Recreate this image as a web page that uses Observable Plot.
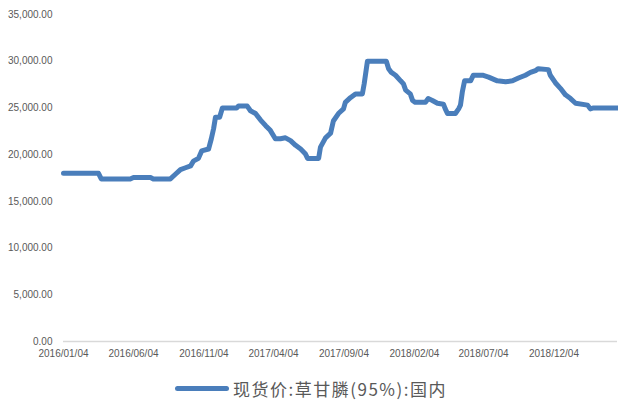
<!DOCTYPE html>
<html>
<head>
<meta charset="utf-8">
<script src="https://cdn.jsdelivr.net/npm/d3@7"></script>
<script src="https://cdn.jsdelivr.net/npm/@observablehq/plot@0.6"></script>
<style>
  html, body { margin: 0; padding: 0; background: #fff; }
  #chart { width: 618px; }
  .legend { display: flex; align-items: center; justify-content: center; height: 40px; font-family: "Noto Sans CJK SC", "Noto Sans", sans-serif; font-size: 17px; letter-spacing: 1.5px; color: #595959; padding-left: 4px; }
  .legend .swatch { width: 54px; height: 5px; border-radius: 3px; background: #4a7ebb; margin-right: 4px; }
</style>
</head>
<body>
<div id="chart"></div>
<script>
const seriesName = "现货价:草甘膦(95%):国内";
const dates = [
  "2016-01-04","2016-03-20","2016-03-26","2016-05-28","2016-06-04","2016-07-11","2016-07-17","2016-08-23",
  "2016-09-03","2016-09-14","2016-09-25","2016-10-06","2016-10-12","2016-10-23","2016-10-30","2016-11-14",
  "2016-11-20","2016-11-25","2016-11-29","2016-12-08","2016-12-14","2017-01-14","2017-01-18","2017-02-06",
  "2017-02-13","2017-02-24","2017-03-07","2017-03-18","2017-03-28","2017-04-08","2017-04-19","2017-04-30",
  "2017-05-11","2017-05-22","2017-06-02","2017-06-12","2017-06-17","2017-07-11","2017-07-15","2017-07-26",
  "2017-08-06","2017-08-12","2017-08-23","2017-09-03","2017-09-07","2017-09-18","2017-09-29","2017-10-14",
  "2017-10-18","2017-10-25","2017-12-05","2017-12-10","2017-12-16","2017-12-25","2018-01-05","2018-01-11",
  "2018-01-16","2018-01-26","2018-01-31","2018-02-06","2018-02-28","2018-03-06","2018-03-15","2018-03-26",
  "2018-04-08","2018-04-12","2018-04-17","2018-05-04","2018-05-11","2018-05-15","2018-05-19","2018-05-24",
  "2018-06-06","2018-06-12","2018-07-02","2018-07-15","2018-08-03","2018-08-21","2018-09-05","2018-09-18",
  "2018-10-03","2018-10-14","2018-10-25","2018-10-31","2018-11-22","2018-11-26","2018-12-07","2018-12-18",
  "2018-12-29","2019-01-09","2019-01-20","2019-02-15","2019-02-21","2019-02-28","2019-04-21"
];
const values = [
  18000,18000,17400,17400,17550,17550,17400,17400,
  17900,18400,18600,18800,19300,19600,20400,20600,
  21700,22800,24000,24000,25000,25000,25200,25200,
  24700,24400,23700,23100,22600,21700,21700,21800,
  21500,21000,20600,20100,19600,19600,20800,21800,
  22300,23600,24400,24900,25600,26100,26500,26500,
  27600,30000,30000,29200,28800,28500,27900,27600,
  26900,26500,25800,25600,25600,26000,25800,25500,
  25400,24900,24400,24400,24900,25300,26700,27900,
  27900,28500,28500,28300,27900,27800,27900,28200,
  28500,28800,29000,29200,29100,28500,27700,27100,
  26400,26000,25500,25300,24900,25000,25000
];
const xTickLabels = ["2016/01/04","2016/06/04","2016/11/04","2017/04/04","2017/09/04","2018/02/04","2018/07/04","2018/12/04"];
const yTicks = [0,5000,10000,15000,20000,25000,30000,35000];
const xDomain = ["2016-01-04","2019-04-21"];

const parse = d3.utcParse("%Y-%m-%d");
const parseTick = d3.utcParse("%Y/%m/%d");
const data = dates.map((d, i) => ({date: parse(d), value: values[i]}));

const chart = Plot.plot({
  width: 618,
  height: 368,
  marginTop: 14,
  marginBottom: 27,
  marginLeft: 63,
  marginRight: 1,
  style: {fontFamily: "'Liberation Sans', Arial, sans-serif", fontSize: "10px", color: "#595959", background: "#fff"},
  x: {type: "utc", domain: xDomain.map(parse), ticks: xTickLabels.map(parseTick), tickFormat: d3.utcFormat("%Y/%m/%d"), tickSize: 0, tickPadding: 8, label: null},
  y: {domain: [0, 35000], ticks: yTicks, tickFormat: d3.format(",.2f"), tickSize: 0, tickPadding: 11, label: null},
  marks: [
    Plot.ruleY([0], {stroke: "#d9d9d9", strokeWidth: 1.5}),
    Plot.line(data, {x: "date", y: "value", stroke: "#4a7ebb", strokeWidth: 5, strokeLinejoin: "round", strokeLinecap: "round"})
  ]
});
document.getElementById("chart").appendChild(chart);

const legend = document.createElement("div");
legend.className = "legend";
legend.innerHTML = `<span class="swatch"></span><span>${seriesName}</span>`;
document.getElementById("chart").appendChild(legend);
</script>
</body>
</html>
